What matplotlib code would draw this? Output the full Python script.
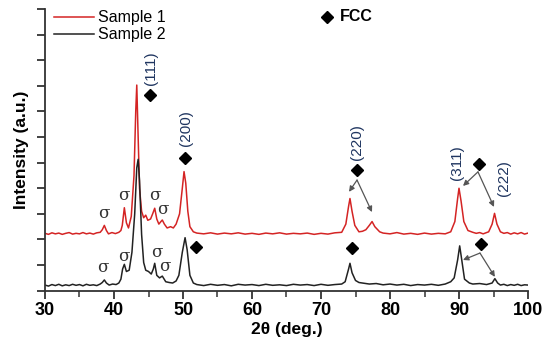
import matplotlib
matplotlib.use("Agg")
import matplotlib.pyplot as plt
import numpy as np

# Sample 1 (red) pattern (x in 2theta deg, y in tick units)
s1_x = [30, 30.5, 31, 31.5, 32, 32.5, 33, 33.5, 34, 34.5, 35, 35.5, 36, 36.5, 37, 37.5, 38, 38.3, 38.6, 38.9, 39.2,
        39.7, 40.2, 40.7, 41.0, 41.2, 41.5, 41.8, 42.1, 42.5, 42.9, 43.15, 43.3, 43.45, 43.7, 44.0, 44.3, 44.6,
        44.9, 45.3, 45.6, 45.9, 46.2, 46.5, 46.8, 47.0, 47.3, 47.7, 48.2, 48.6, 49.0, 49.5, 49.9, 50.15, 50.4,
        50.7, 51.0, 51.5, 52, 53, 54, 55, 56, 57, 58, 59, 60, 61, 62, 63, 64, 65, 66, 67, 68, 69, 70, 71, 72,
        73.0, 73.6, 74.0, 74.2, 74.5, 74.9, 75.5, 76.0, 76.5, 77.0, 77.4, 77.8, 78.5, 79, 80, 81, 82, 83, 84,
        85, 86, 87, 88, 88.8, 89.4, 89.8, 90.0, 90.3, 90.7, 91.3, 92.0, 92.5, 93, 93.5, 94.3, 94.8, 95.15, 95.5,
        96, 96.5, 97, 97.5, 98, 98.5, 99, 99.5, 100]
s1_y = [2.24, 2.20, 2.26, 2.22, 2.25, 2.20, 2.24, 2.27, 2.21, 2.24, 2.22, 2.27, 2.22, 2.25, 2.21, 2.26, 2.28, 2.38, 2.55, 2.35, 2.22,
        2.27, 2.23, 2.28, 2.35, 2.55, 3.24, 2.65, 2.45, 2.9, 4.5, 7.0, 8.03, 6.5, 4.0, 3.1, 2.85, 2.95,
        2.75, 2.8, 3.0, 3.22, 2.8, 2.6, 2.7, 2.76, 2.6, 2.45, 2.5, 2.45, 2.6, 3.0, 4.0, 4.65, 4.2,
        3.1, 2.5, 2.3, 2.25, 2.22, 2.26, 2.21, 2.25, 2.22, 2.26, 2.21, 2.24, 2.20, 2.25, 2.22, 2.26, 2.21, 2.24, 2.22, 2.25, 2.20, 2.24, 2.21, 2.26,
        2.28, 2.6, 3.3, 3.6, 3.1, 2.55, 2.3, 2.32, 2.38, 2.55, 2.7, 2.5, 2.3, 2.25, 2.22, 2.27, 2.21, 2.24, 2.20,
        2.25, 2.21, 2.24, 2.22, 2.3, 2.7, 3.6, 4.0, 3.5, 2.7, 2.35, 2.28, 2.24, 2.27, 2.22, 2.3, 2.6, 3.02, 2.6,
        2.3, 2.24, 2.27, 2.21, 2.26, 2.22, 2.27, 2.21, 2.25]

# Sample 2 (black) pattern
s2_x = [30, 30.5, 31, 31.5, 32, 32.5, 33, 33.5, 34, 34.5, 35, 35.5, 36, 36.5, 37, 37.5, 38, 38.3, 38.6, 38.9, 39.3,
        39.8, 40.3, 40.7, 41.0, 41.25, 41.5, 41.8, 42.2, 42.6, 43.0, 43.3, 43.5, 43.7, 44.0, 44.3, 44.6, 45.0,
        45.4, 45.7, 45.9, 46.2, 46.6, 47.0, 47.5, 48.0, 48.5, 49.0, 49.4, 49.9, 50.3, 50.6, 51.0, 51.5, 52, 53,
        54, 55, 56, 57, 58, 59, 60, 61, 62, 63, 64, 65, 66, 67, 68, 69, 70, 71, 72, 73, 73.5, 74.0, 74.2, 74.5,
        75.0, 75.5, 76, 77, 78, 79, 80, 81, 82, 83, 84, 85, 86, 87, 88, 88.8, 89.3, 89.8, 90.1, 90.4, 90.8,
        91.5, 92, 93, 94, 94.8, 95.2, 95.6, 96, 96.5, 97, 97.5, 98, 98.5, 99, 99.5, 100]
s2_y = [0.22, 0.18, 0.24, 0.20, 0.25, 0.19, 0.23, 0.20, 0.25, 0.21, 0.24, 0.19, 0.25, 0.21, 0.23, 0.20, 0.26, 0.32, 0.42, 0.30, 0.22,
        0.26, 0.24, 0.30, 0.45, 0.85, 1.03, 0.75, 0.8, 1.5, 3.0, 4.8, 5.13, 4.3, 2.2, 1.1, 0.8, 0.75,
        0.65, 0.85, 1.07, 0.6, 0.5, 0.57, 0.35, 0.32, 0.3, 0.38, 0.6, 1.5, 2.07, 1.6, 0.6, 0.3, 0.24, 0.20,
        0.25, 0.21, 0.24, 0.19, 0.25, 0.22, 0.24, 0.20, 0.25, 0.21, 0.23, 0.20, 0.25, 0.22, 0.24, 0.20, 0.25, 0.21, 0.24, 0.26, 0.35, 0.85, 1.07, 0.7,
        0.4, 0.32, 0.30, 0.26, 0.28, 0.23, 0.26, 0.22, 0.25, 0.20, 0.24, 0.22, 0.25, 0.21, 0.26, 0.35, 0.5, 1.2, 1.75, 1.2, 0.45,
        0.3, 0.26, 0.28, 0.24, 0.3, 0.47, 0.3, 0.22, 0.25, 0.20, 0.24, 0.21, 0.25, 0.20, 0.23, 0.22]

series_labels = ["Sample 1", "Sample 2"]
x_ticks = [30, 40, 50, 60, 70, 80, 90, 100]

miller_labels = ["(111)", "(200)", "(220)", "(311)", "(222)"]
miller_pos = [(45.36, 8.7), (50.43, 6.36), (75.22, 5.81), (89.7, 4.99), (96.52, 4.4)]
red_diamonds = [(45.22, 7.64), (50.29, 5.18), (75.22, 4.71), (92.9, 4.95)]
black_diamonds = [(51.88, 1.71), (74.49, 1.67), (93.19, 1.82)]
sigma_red = [(38.55, 3.0), (41.45, 3.7), (45.94, 3.7), (47.1, 3.19)]
sigma_black = [(38.41, 0.89), (41.45, 1.32), (46.23, 1.51), (47.39, 0.93)]
arrows = [((75.22, 4.32), (74.06, 3.86)), ((75.22, 4.32), (77.39, 3.07)),
          ((92.75, 4.64), (90.58, 4.09)), ((92.75, 4.64), (95.07, 3.27)),
          ((93.04, 1.47), (90.58, 1.2)), ((93.04, 1.47), (95.2, 0.54))]

plt.rcParams['font.family'] = ['Liberation Sans', 'DejaVu Sans']

fig = plt.figure(figsize=(5.5, 3.52), dpi=100)
ax = fig.add_axes([45/550, 1 - 290.7/352, 483/550, 281.7/352])

red = '#d42424'
blk = '#222222'
ax.plot(s1_x, s1_y, color=red, lw=1.1, label=series_labels[0])
ax.plot(s2_x, s2_y, color=blk, lw=1.1, label=series_labels[1])

ax.set_xlim(30, 100)
ax.set_ylim(0, 11)
ax.set_xticks(x_ticks)
ax.set_xticks([35, 45, 55, 65, 75, 85, 95], minor=True)
ax.set_yticks(range(0, 12))
ax.set_yticklabels([])
for s in ['top', 'right']:
    ax.spines[s].set_visible(False)
for s in ['left', 'bottom']:
    ax.spines[s].set_linewidth(1.3)
    ax.spines[s].set_color('#333333')
ax.tick_params(axis='both', which='major', direction='out', length=6, width=1.3, color='#333333')
ax.tick_params(axis='x', which='minor', direction='out', length=4, width=1.1, color='#333333')
ax.tick_params(axis='x', labelsize=13, pad=2)
for lab in ax.get_xticklabels():
    lab.set_fontweight('bold')

ax.set_xlabel('2θ (deg.)', fontsize=12.5, fontweight='bold', labelpad=2)
ax.set_ylabel('Intensity (a.u.)', fontsize=12.5, fontweight='bold', labelpad=2)

leg = ax.legend(loc='upper left', bbox_to_anchor=(-0.005, 1.035), frameon=False, fontsize=11.5,
                handlelength=2.5, handletextpad=0.3, labelspacing=0.12, borderaxespad=0.3)

# FCC key
ax.plot([70.87], [10.69], marker='D', ms=6.5, color='black', clip_on=False)
ax.text(72.7, 10.69, 'FCC', fontsize=11.5, fontweight='bold', va='center', ha='left')

for lab, (x, y) in zip(miller_labels, miller_pos):
    ax.text(x, y, lab, rotation=90, ha='center', va='center', fontsize=11, color='#1f3560')
for x, y in red_diamonds + black_diamonds:
    ax.plot([x], [y], marker='D', ms=6.5, color='black')
for x, y in sigma_red + sigma_black:
    ax.text(x, y, 'σ', ha='center', va='center', fontsize=12, family=['DejaVu Serif'], color='#333333')
for (x0, y0), (x1, y1) in arrows:
    ax.annotate('', xy=(x1, y1), xytext=(x0, y0),
                arrowprops=dict(arrowstyle='-|>', color='#555555', lw=0.9, mutation_scale=8, shrinkA=0, shrinkB=0))

fig.savefig('out.png', dpi=100)
